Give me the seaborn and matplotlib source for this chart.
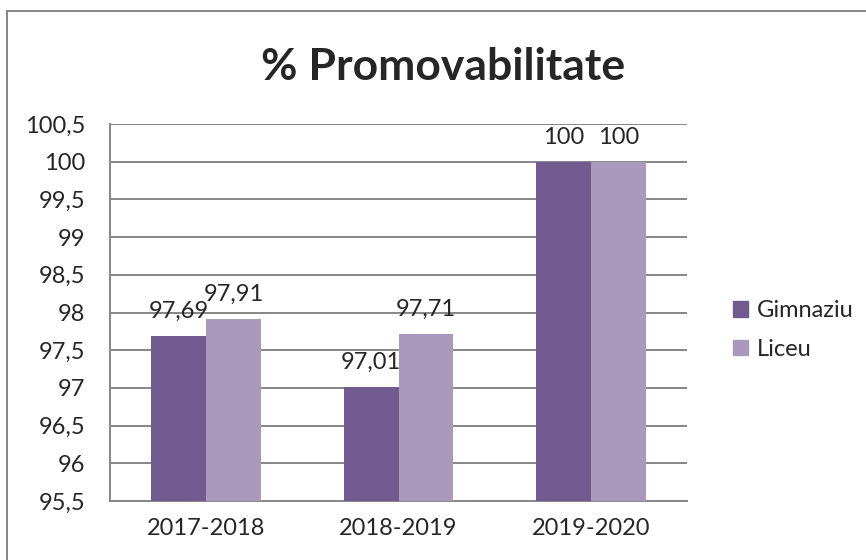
import matplotlib
matplotlib.use('Agg')
import matplotlib.pyplot as plt
import matplotlib.patches as mpatches
import pandas as pd
import seaborn as sns

# date
ani = ['2017-2018', '2018-2019', '2019-2020']
gimnaziu = [97.69, 97.01, 100]
liceu = [97.91, 97.71, 100]
serii = ['Gimnaziu', 'Liceu']
culori = ['#715A8F', '#A99ABD']
y_ticks = [95.5, 96, 96.5, 97, 97.5, 98, 98.5, 99, 99.5, 100, 100.5]

df = pd.DataFrame({
    'an': ani * 2,
    'serie': [serii[0]] * 3 + [serii[1]] * 3,
    'valoare': gimnaziu + liceu,
})

sns.set_style('white')
plt.rcParams['font.family'] = ['Lato', 'DejaVu Sans']

fig = plt.figure(figsize=(8.66, 5.6), dpi=100)
ax = fig.add_axes([110 / 866, 59 / 560, 577 / 866, 377 / 560])

sns.barplot(data=df, x='an', y='valoare', hue='serie', palette=culori,
            width=0.571, gap=0, saturation=1, ax=ax, zorder=3, legend=False,
            linewidth=0)

ax.set_ylim(95.5, 100.5)
ax.set_yticks(y_ticks)
ax.set_yticklabels([f'{v:g}'.replace('.', ',') for v in y_ticks])
ax.set_xlabel('')
ax.set_ylabel('')
ax.yaxis.grid(True, color='#868686', lw=1.4, zorder=0)
ax.set_axisbelow(True)
for s in ['top', 'right']:
    ax.spines[s].set_visible(False)
for s in ['left', 'bottom']:
    ax.spines[s].set_color('#868686')
    ax.spines[s].set_linewidth(1.4)
ax.tick_params(axis='y', length=0, pad=18, labelsize=17)
ax.tick_params(axis='x', length=0, pad=12, labelsize=17)

# etichete valori
for cont in ax.containers:
    for bar in cont:
        h = bar.get_height()
        ax.annotate(f'{h:g}'.replace('.', ','),
                    (bar.get_x() + bar.get_width() / 2, h),
                    xytext=(0, 13), textcoords='offset points',
                    ha='center', va='baseline', fontsize=17, annotation_clip=False)

fig.text(443 / 866, 1 - 67 / 560, '% Promovabilitate', ha='center', va='center',
         fontsize=32, fontweight='bold')

handles = [mpatches.Patch(color=c, label=l) for c, l in zip(culori, serii)]
fig.legend(handles=handles, loc='center left', bbox_to_anchor=(733 / 866, 1 - 330 / 560),
           frameon=False, fontsize=17, handlelength=0.65, handleheight=0.65,
           handletextpad=0.35, labelspacing=0.75, borderpad=0, borderaxespad=0)

# chenar exterior
fig.add_artist(plt.Line2D([7 / 866, 7 / 866], [0, 1 - 11 / 560], color='#868686', lw=1.4))
fig.add_artist(plt.Line2D([7 / 866, 1], [1 - 11 / 560, 1 - 11 / 560], color='#868686', lw=1.4))

plt.savefig('out.png', dpi=100)
